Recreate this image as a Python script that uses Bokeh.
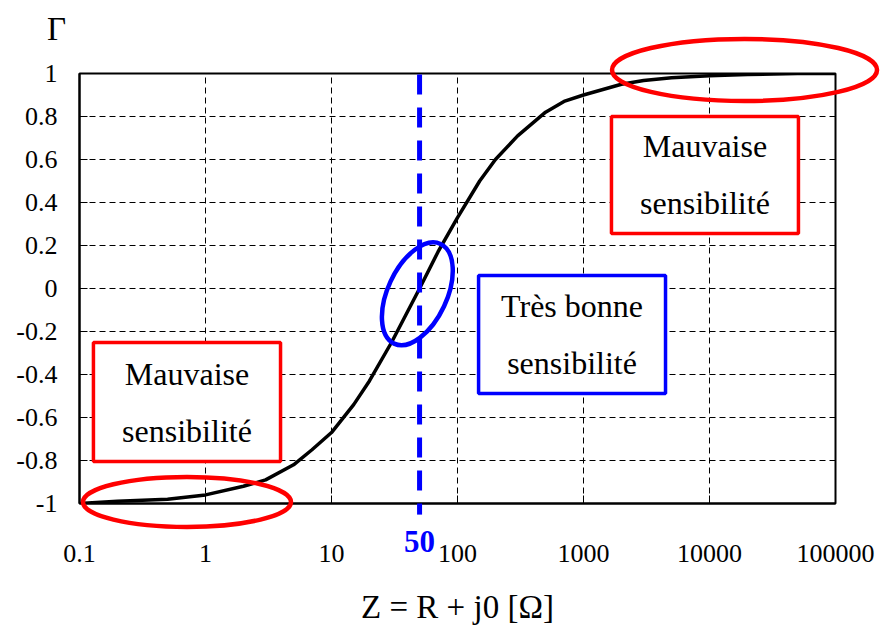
import numpy as np
from bokeh.plotting import figure
from bokeh.layouts import column
from bokeh.models import FixedTicker, NumeralTickFormatter, BoxAnnotation, Label, Range1d
from bokeh.core.properties import value
from bokeh.embed import file_html
from bokeh.resources import INLINE

# Reflection coefficient versus a purely resistive load Z = R + j0
z_ohm = [0.1, 0.2, 0.5, 1, 2, 3, 5, 7, 10, 15, 20, 30, 50, 70, 100, 150, 200, 300,
         500, 700, 1000, 2000, 3000, 5000, 10000, 20000, 50000, 100000]
gamma = [-1.0, -0.99, -0.98, -0.96, -0.92, -0.89, -0.82, -0.75, -0.67, -0.54, -0.43,
         -0.25, 0.0, 0.17, 0.33, 0.5, 0.6, 0.71, 0.82, 0.87, 0.9, 0.95, 0.967, 0.98,
         0.99, 0.995, 1.0, 1.0]

x_ticks = [0.1, 1, 10, 100, 1000, 10000, 100000]
y_ticks = [-1, -0.8, -0.6, -0.4, -0.2, 0, 0.2, 0.4, 0.6, 0.8, 1]
z_ref = 50

# annotation boxes: left, right, top, bottom (data), text lines
box_lr = [(1667, 50800), (0.129, 3.94), (147, 4477)]
box_tb = [(0.8, 0.256), (-0.251, -0.805), (0.06, -0.488)]
box_text = [["Mauvaise", "sensibilité"], ["Mauvaise", "sensibilité"],
            ["Très bonne", "sensibilité"]]

# highlight ellipses: centre (data), width/height (px), angle (deg)
ell_x = [0.713, 18970, 48]
ell_y = [-0.988, 1.021, -0.02]
ell_w = [208, 265, 110]
ell_h = [50, 62, 59]
ell_a = [0, 0, 65]

FONT = "Liberation Serif"
RED = "#FF0000"
BLUE = "#0000FF"

W, H = 880, 626
BL, BR, BT, BB = 79, 45, 73, 123
FW, FH = W - BL - BR, H - BT - BB
X0, X1 = 0.1, 100000
Y0, Y1 = -1, 1

p = figure(x_axis_type="log", x_range=(X0, X1), y_range=(Y0, Y1),
           frame_width=FW, frame_height=FH, min_border_left=BL, min_border_right=BR,
           min_border_top=BT, min_border_bottom=BB, output_backend="svg",
           toolbar_location=None, background_fill_color="white",
           border_fill_color="white")
p.frame_align = False
p.outline_line_color = "black"
p.outline_line_width = 2

for ax in (p.xaxis, p.yaxis):
    ax.axis_line_color = "black"
    ax.axis_line_width = 2
    ax.major_label_text_font = FONT
    ax.major_label_text_font_size = "26px"
    ax.major_label_text_color = "black"
    ax.minor_tick_line_color = None
    ax.major_tick_out = 0
    ax.major_tick_in = 8
    ax.major_tick_line_color = "black"
    ax.formatter = NumeralTickFormatter(format="0[.][0]")

p.xaxis.ticker = FixedTicker(ticks=x_ticks)
p.yaxis.ticker = FixedTicker(ticks=y_ticks)
p.xaxis.major_label_standoff = 41
p.yaxis.major_label_standoff = 22
p.xaxis.axis_label = "Z = R + j0 [Ω]"
p.xaxis.axis_label_text_font = FONT
p.xaxis.axis_label_text_font_size = "33px"
p.xaxis.axis_label_text_font_style = "normal"
p.xaxis.axis_label_text_color = "black"
p.xaxis.axis_label_standoff = 24

for g in (p.xgrid, p.ygrid):
    g.grid_line_color = "black"
    g.grid_line_dash = "6 4"
    g.grid_line_width = 1
p.xgrid.ticker = FixedTicker(ticks=x_ticks)
p.ygrid.ticker = FixedTicker(ticks=y_ticks)

# the curve
p.line(z_ohm, gamma, line_color="black", line_width=3.5)

# text boxes
LINE_GAP = 57 / (FH / (Y1 - Y0))
for (l, r), (t, b), lines, col in zip(box_lr, box_tb, box_text, [RED, RED, BLUE]):
    p.add_layout(BoxAnnotation(left=l, right=r, top=t, bottom=b, fill_color="white",
                               fill_alpha=1, line_color=col, line_alpha=1,
                               line_width=3.5))
    xc = 10 ** ((np.log10(l) + np.log10(r)) / 2)
    yc = (t + b) / 2
    for i, s in enumerate(lines):
        p.add_layout(Label(x=xc, y=yc + (0.5 - i) * LINE_GAP, text=s, text_font=FONT,
                           text_font_size="32px", text_align="center",
                           text_baseline="middle", text_color="black"))

# transparent overlay covering the whole canvas with the same data mapping as the
# frame above, so the highlights and labels may run past the plot box
px_dec = FW / (np.log10(X1) - np.log10(X0))
px_y = FH / (Y1 - Y0)
ox = (10 ** (np.log10(X0) - BL / px_dec), 10 ** (np.log10(X1) + BR / px_dec))
oy = (Y0 - BB / px_y, Y1 + BT / px_y)

q = figure(x_axis_type="log", x_range=Range1d(*ox), y_range=Range1d(*oy),
           frame_width=W, frame_height=H, min_border=0, output_backend="svg",
           toolbar_location=None, x_axis_location=None, y_axis_location=None)
q.frame_align = False
q.grid.visible = False
q.outline_line_color = None
q.background_fill_alpha = 0
q.border_fill_alpha = 0
q.margin = (-H, 0, 0, 0)

q.ellipse(x=ell_x, y=ell_y, width=ell_w, height=ell_h, angle=ell_a,
          angle_units="deg", width_units="screen", height_units="screen",
          fill_alpha=0, line_color=[RED, RED, BLUE], line_width=4.5)

# 50 ohm reference
q.line([z_ref, z_ref], [1, -1.047], line_color=BLUE, line_width=5,
       line_dash="20 13")
q.text(x=[z_ref], y=[-1.17], text=[str(z_ref)], text_color=BLUE,
       text_font=value(FONT), text_font_size="31px", text_font_style="bold",
       text_align="center", text_baseline="middle")

# y symbol above the tick labels
q.text(x=[10 ** (np.log10(X0) - 23 / px_dec)], y=[Y1 + 46 / px_y], text=["Γ"],
       text_color="black", text_font=value(FONT), text_font_size="33px",
       text_align="center", text_baseline="middle")

layout = column(p, q, spacing=0)
open("out.html", "w").write(file_html(layout, INLINE))
